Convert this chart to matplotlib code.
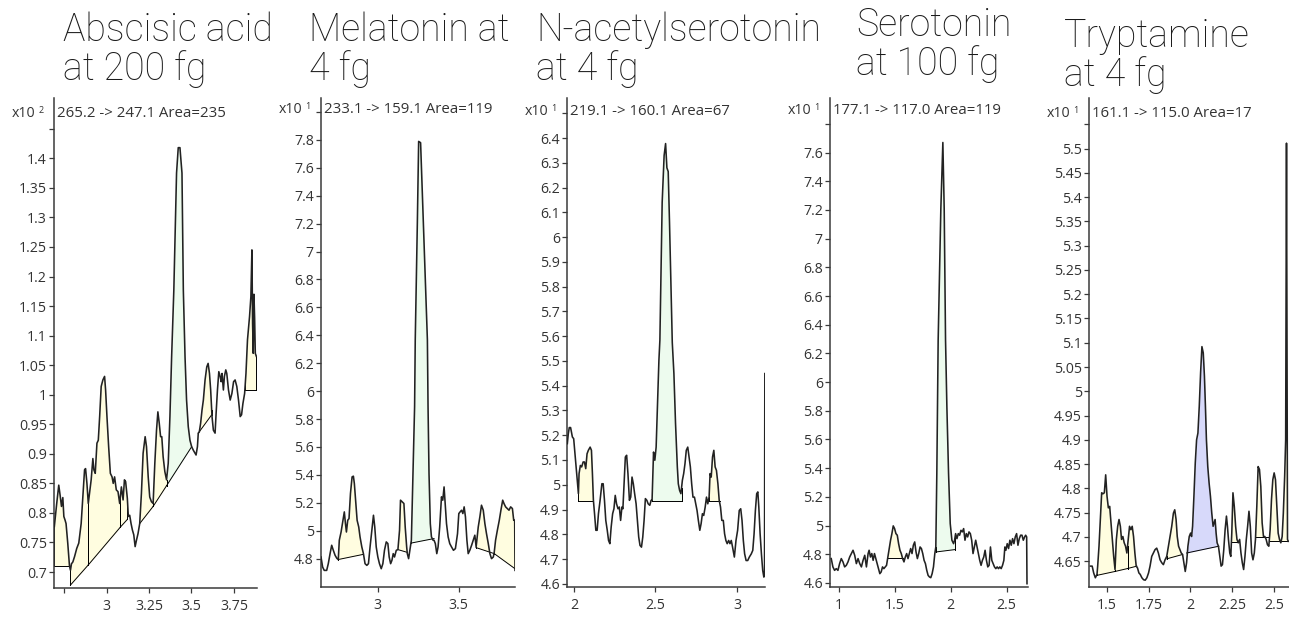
import matplotlib.pyplot as plt
import numpy as np

W, H = 1289, 619

# ---------------- data (retention time [min], counts) ----------------
titles = [("Abscisic acid", "at 200 fg"), ("Melatonin at", "4 fg"),
          ("N-acetylserotonin", "at 4 fg"), ("Serotonin", "at 100 fg"),
          ("Tryptamine", "at 4 fg")]
transitions = ["265.2 -> 247.1 Area=235", "233.1 -> 159.1 Area=119",
               "219.1 -> 160.1 Area=67", "177.1 -> 117.0 Area=119",
               "161.1 -> 115.0 Area=17"]
exponents = ["2", "1", "1", "1", "1"]

abscisic_trace = [
    (2.692, 0.777), (2.706, 0.816), (2.718, 0.847), (2.726, 0.830), (2.734, 0.811), (2.742, 0.826),
    (2.748, 0.794), (2.755, 0.788), (2.761, 0.782), (2.771, 0.749), (2.781, 0.711), (2.787, 0.703),
    (2.793, 0.714), (2.801, 0.717), (2.811, 0.726), (2.824, 0.740), (2.836, 0.749), (2.850, 0.782),
    (2.860, 0.827), (2.870, 0.873), (2.876, 0.875), (2.884, 0.850), (2.892, 0.816), (2.899, 0.833),
    (2.909, 0.856), (2.919, 0.892), (2.925, 0.873), (2.933, 0.867), (2.943, 0.918), (2.951, 0.923),
    (2.959, 0.963), (2.968, 1.014), (2.978, 1.025), (2.988, 1.031), (2.994, 1.008), (3.002, 0.963),
    (3.012, 0.912), (3.022, 0.867), (3.032, 0.861), (3.039, 0.850), (3.047, 0.861), (3.057, 0.839),
    (3.067, 0.836), (3.077, 0.816), (3.087, 0.844), (3.097, 0.822), (3.105, 0.856), (3.112, 0.853),
    (3.122, 0.825), (3.128, 0.794), (3.136, 0.796), (3.144, 0.782), (3.152, 0.771), (3.160, 0.763),
    (3.168, 0.743), (3.176, 0.754), (3.185, 0.765), (3.195, 0.782), (3.205, 0.833), (3.215, 0.901),
    (3.227, 0.929), (3.235, 0.912), (3.245, 0.861), (3.254, 0.827), (3.264, 0.819), (3.274, 0.816),
    (3.284, 0.884), (3.294, 0.940), (3.302, 0.971), (3.310, 0.952), (3.318, 0.929), (3.325, 0.929),
    (3.333, 0.895), (3.343, 0.870), (3.353, 0.856), (3.363, 0.884), (3.373, 0.963), (3.383, 1.064),
    (3.396, 1.177), (3.412, 1.375), (3.422, 1.418), (3.432, 1.418), (3.444, 1.375), (3.452, 1.177),
    (3.462, 1.064), (3.471, 0.991), (3.481, 0.946), (3.491, 0.923), (3.501, 0.912), (3.511, 0.906),
    (3.521, 0.901), (3.527, 0.898), (3.535, 0.912), (3.540, 0.935), (3.546, 0.937), (3.554, 0.952),
    (3.562, 0.974), (3.570, 0.991), (3.580, 1.025), (3.590, 1.047), (3.598, 1.053), (3.606, 1.036),
    (3.613, 1.008), (3.621, 0.963), (3.629, 0.940), (3.639, 0.935), (3.645, 0.968), (3.653, 1.008),
    (3.661, 1.039), (3.669, 1.031), (3.675, 1.022), (3.680, 1.036), (3.688, 1.008), (3.694, 1.031),
    (3.702, 1.042), (3.708, 1.036), (3.718, 1.008), (3.728, 0.991), (3.738, 1.002), (3.748, 1.022),
    (3.757, 1.025), (3.767, 1.014), (3.777, 0.991), (3.787, 0.963), (3.795, 0.966), (3.803, 0.985),
    (3.813, 1.002), (3.821, 1.036), (3.830, 1.093), (3.842, 1.132), (3.850, 1.166), (3.856, 1.245),
    (3.860, 1.120), (3.864, 1.070), (3.868, 1.170), (3.872, 1.130), (3.876, 1.070), (3.882, 1.065),
]
melatonin_trace = [
    (2.649, 4.812), (2.659, 4.740), (2.669, 4.716), (2.684, 4.716), (2.694, 4.764), (2.705, 4.836),
    (2.715, 4.896), (2.725, 4.860), (2.736, 4.824), (2.748, 4.800), (2.756, 4.800), (2.762, 4.932),
    (2.773, 4.991), (2.783, 5.063), (2.793, 5.135), (2.800, 5.051), (2.806, 4.991), (2.814, 5.075),
    (2.822, 5.087), (2.831, 5.267), (2.841, 5.386), (2.849, 5.391), (2.855, 5.338), (2.864, 5.195),
    (2.872, 5.075), (2.882, 5.027), (2.890, 4.956), (2.901, 4.884), (2.911, 4.836), (2.921, 4.764),
    (2.932, 4.752), (2.942, 4.764), (2.952, 4.884), (2.963, 5.003), (2.973, 5.111), (2.981, 5.027),
    (2.990, 4.884), (3.000, 4.812), (3.010, 4.764), (3.021, 4.728), (3.031, 4.764), (3.041, 4.860),
    (3.052, 4.920), (3.062, 4.908), (3.070, 4.812), (3.079, 4.764), (3.087, 4.788), (3.095, 4.836),
    (3.103, 4.812), (3.114, 4.860), (3.124, 4.865), (3.134, 5.003), (3.140, 5.219), (3.151, 5.207),
    (3.161, 5.195), (3.169, 5.027), (3.178, 4.884), (3.182, 4.836), (3.190, 4.800), (3.198, 4.860),
    (3.207, 4.932), (3.217, 5.410), (3.227, 5.889), (3.231, 6.367), (3.244, 7.207), (3.252, 7.789),
    (3.264, 7.780), (3.281, 7.207), (3.306, 6.367), (3.310, 5.889), (3.316, 5.410), (3.324, 5.051),
    (3.331, 4.956), (3.341, 4.932), (3.347, 4.932), (3.355, 4.908), (3.364, 4.836), (3.372, 4.884),
    (3.382, 5.027), (3.393, 5.243), (3.401, 5.219), (3.409, 5.314), (3.417, 5.171), (3.424, 5.051),
    (3.434, 4.956), (3.444, 4.908), (3.455, 4.884), (3.467, 4.860), (3.479, 4.872), (3.492, 4.979),
    (3.500, 5.123), (3.508, 5.135), (3.517, 5.147), (3.525, 5.123), (3.533, 5.171), (3.541, 5.099),
    (3.550, 4.932), (3.558, 4.836), (3.568, 4.860), (3.579, 4.896), (3.589, 4.932), (3.599, 4.968),
    (3.607, 4.884), (3.620, 5.027), (3.630, 5.099), (3.640, 5.183), (3.651, 5.147), (3.661, 5.051),
    (3.671, 4.979), (3.682, 4.908), (3.692, 4.836), (3.702, 4.800), (3.713, 4.812), (3.719, 4.848),
    (3.727, 4.932), (3.738, 5.003), (3.750, 5.075), (3.760, 5.147), (3.771, 5.219), (3.779, 5.195),
    (3.789, 5.171), (3.800, 5.159), (3.810, 5.147), (3.820, 5.171), (3.831, 5.159), (3.839, 5.075),
    (3.845, 5.075), (3.847, 4.716),
]
acetylserotonin_trace = [
    (1.959, 5.166), (1.965, 5.206), (1.971, 5.231), (1.979, 5.231), (1.990, 5.193), (1.998, 5.186),
    (2.006, 5.125), (2.016, 5.045), (2.023, 4.991), (2.027, 4.964), (2.031, 5.045), (2.039, 5.078),
    (2.047, 5.072), (2.056, 5.092), (2.064, 5.092), (2.072, 5.065), (2.080, 5.125), (2.088, 5.139),
    (2.099, 5.152), (2.107, 5.139), (2.113, 5.045), (2.119, 4.937), (2.126, 4.883), (2.134, 4.816),
    (2.142, 4.816), (2.150, 4.883), (2.160, 4.937), (2.171, 5.004), (2.179, 5.004), (2.187, 4.937),
    (2.195, 4.856), (2.204, 4.816), (2.212, 4.775), (2.220, 4.762), (2.228, 4.829), (2.237, 4.883),
    (2.245, 4.903), (2.253, 4.957), (2.261, 4.923), (2.270, 4.903), (2.278, 4.910), (2.286, 4.856),
    (2.294, 4.910), (2.300, 4.903), (2.307, 5.004), (2.315, 5.112), (2.323, 5.119), (2.331, 5.045),
    (2.340, 4.937), (2.348, 4.950), (2.356, 5.031), (2.364, 5.004), (2.372, 4.964), (2.381, 4.923),
    (2.389, 4.856), (2.397, 4.789), (2.405, 4.755), (2.414, 4.748), (2.422, 4.789), (2.430, 4.856),
    (2.438, 4.944), (2.447, 4.937), (2.455, 4.923), (2.465, 4.917), (2.473, 4.937), (2.479, 4.937),
    (2.488, 5.132), (2.496, 5.099), (2.504, 5.152), (2.512, 5.314), (2.521, 5.503), (2.527, 5.584),
    (2.541, 6.140), (2.553, 6.330), (2.562, 6.378), (2.570, 6.280), (2.578, 6.265), (2.586, 6.060),
    (2.603, 5.575), (2.613, 5.449), (2.623, 5.247), (2.634, 5.072), (2.640, 5.004), (2.648, 4.977),
    (2.656, 4.964), (2.665, 5.018), (2.673, 5.045), (2.681, 5.085), (2.689, 5.139), (2.698, 5.152),
    (2.706, 5.112), (2.714, 5.072), (2.722, 5.004), (2.730, 4.950), (2.739, 4.950), (2.747, 4.923),
    (2.755, 4.896), (2.763, 4.856), (2.772, 4.816), (2.780, 4.843), (2.788, 4.883), (2.796, 4.876),
    (2.805, 4.910), (2.813, 4.950), (2.821, 4.923), (2.829, 4.950), (2.835, 5.045), (2.842, 5.031),
    (2.850, 5.112), (2.858, 5.139), (2.866, 5.072), (2.874, 5.058), (2.883, 5.004), (2.891, 4.937),
    (2.899, 4.910), (2.907, 4.856), (2.916, 4.856), (2.924, 4.802), (2.932, 4.775), (2.940, 4.762),
    (2.949, 4.775), (2.957, 4.762), (2.965, 4.775), (2.973, 4.748), (2.984, 4.708), (2.994, 4.775),
    (3.004, 4.816), (3.014, 4.896), (3.023, 4.903), (3.031, 4.856), (3.039, 4.775), (3.047, 4.721),
    (3.056, 4.694), (3.066, 4.694), (3.076, 4.708), (3.088, 4.721), (3.097, 4.735), (3.105, 4.802),
    (3.113, 4.896), (3.121, 4.964), (3.128, 4.971), (3.134, 4.910), (3.142, 4.802), (3.150, 4.721),
    (3.158, 4.654), (3.165, 4.627), (3.169, 4.640), (3.171, 5.449),
]
serotonin_trace = [
    (0.931, 4.770), (0.946, 4.712), (0.961, 4.688), (0.976, 4.700), (0.991, 4.688), (1.006, 4.735),
    (1.021, 4.770), (1.036, 4.747), (1.051, 4.712), (1.066, 4.723), (1.081, 4.747), (1.096, 4.781),
    (1.111, 4.805), (1.126, 4.828), (1.141, 4.793), (1.156, 4.735), (1.171, 4.770), (1.186, 4.735),
    (1.201, 4.712), (1.216, 4.758), (1.231, 4.793), (1.246, 4.712), (1.261, 4.805), (1.270, 4.828),
    (1.282, 4.781), (1.294, 4.805), (1.306, 4.758), (1.318, 4.805), (1.330, 4.770), (1.342, 4.735),
    (1.354, 4.700), (1.366, 4.665), (1.378, 4.677), (1.390, 4.712), (1.402, 4.700), (1.414, 4.712),
    (1.426, 4.723), (1.438, 4.781), (1.450, 4.840), (1.462, 4.898), (1.474, 4.944), (1.486, 4.998),
    (1.498, 4.979), (1.510, 4.944), (1.522, 4.933), (1.534, 4.874), (1.546, 4.828), (1.558, 4.805),
    (1.570, 4.770), (1.582, 4.747), (1.594, 4.781), (1.606, 4.805), (1.618, 4.770), (1.630, 4.805),
    (1.642, 4.840), (1.654, 4.805), (1.666, 4.863), (1.678, 4.886), (1.690, 4.816), (1.702, 4.770),
    (1.714, 4.805), (1.726, 4.851), (1.738, 4.840), (1.750, 4.805), (1.762, 4.758), (1.774, 4.735),
    (1.786, 4.688), (1.798, 4.653), (1.810, 4.642), (1.822, 4.637), (1.834, 4.665), (1.846, 4.712),
    (1.858, 4.805), (1.867, 4.851), (1.876, 5.363), (1.888, 6.293), (1.912, 7.209), (1.930, 7.670),
    (1.942, 7.209), (1.954, 6.293), (1.966, 5.828), (1.981, 5.363), (1.996, 5.014), (2.011, 4.898),
    (2.026, 4.874), (2.035, 4.898), (2.044, 4.944), (2.056, 4.909), (2.068, 4.944), (2.080, 4.933),
    (2.092, 4.967), (2.104, 4.956), (2.116, 4.979), (2.128, 4.898), (2.140, 4.944), (2.152, 4.921),
    (2.164, 4.956), (2.176, 4.944), (2.188, 4.898), (2.200, 4.805), (2.212, 4.851), (2.224, 4.898),
    (2.236, 4.851), (2.248, 4.805), (2.260, 4.758), (2.272, 4.723), (2.284, 4.758), (2.296, 4.781),
    (2.308, 4.828), (2.320, 4.758), (2.332, 4.712), (2.344, 4.723), (2.356, 4.851), (2.368, 4.758),
    (2.380, 4.735), (2.392, 4.712), (2.404, 4.700), (2.416, 4.712), (2.428, 4.700), (2.440, 4.712),
    (2.452, 4.700), (2.464, 4.723), (2.476, 4.758), (2.485, 4.851), (2.494, 4.828), (2.506, 4.874),
    (2.518, 4.840), (2.530, 4.898), (2.542, 4.863), (2.554, 4.909), (2.566, 4.874), (2.578, 4.921),
    (2.590, 4.944), (2.602, 4.863), (2.614, 4.909), (2.626, 4.933), (2.638, 4.933), (2.650, 4.898),
    (2.662, 4.921), (2.671, 4.933), (2.680, 4.921), (2.683, 4.595),
]
tryptamine_trace = [
    (1.401, 4.640), (1.411, 4.640), (1.420, 4.626), (1.430, 4.616), (1.440, 4.623), (1.444, 4.640),
    (1.452, 4.681), (1.460, 4.736), (1.468, 4.791), (1.476, 4.789), (1.484, 4.791), (1.492, 4.828),
    (1.500, 4.784), (1.508, 4.760), (1.516, 4.763), (1.524, 4.729), (1.532, 4.695), (1.540, 4.660),
    (1.548, 4.633), (1.556, 4.695), (1.564, 4.722), (1.572, 4.736), (1.580, 4.722), (1.587, 4.695),
    (1.595, 4.701), (1.603, 4.688), (1.611, 4.681), (1.619, 4.667), (1.627, 4.695), (1.635, 4.722),
    (1.643, 4.715), (1.651, 4.722), (1.659, 4.701), (1.667, 4.667), (1.675, 4.640), (1.683, 4.636),
    (1.691, 4.626), (1.699, 4.623), (1.709, 4.616), (1.719, 4.612), (1.729, 4.611), (1.739, 4.616),
    (1.749, 4.626), (1.758, 4.640), (1.768, 4.660), (1.778, 4.667), (1.788, 4.674), (1.798, 4.677),
    (1.808, 4.667), (1.818, 4.653), (1.828, 4.647), (1.838, 4.643), (1.848, 4.653), (1.858, 4.660),
    (1.868, 4.681), (1.878, 4.701), (1.888, 4.722), (1.898, 4.749), (1.906, 4.756), (1.914, 4.736),
    (1.921, 4.701), (1.929, 4.681), (1.937, 4.674), (1.945, 4.667), (1.953, 4.664), (1.961, 4.647),
    (1.969, 4.629), (1.977, 4.647), (1.985, 4.681), (1.993, 4.701), (2.001, 4.708), (2.007, 4.701),
    (2.013, 4.722), (2.021, 4.784), (2.029, 4.852), (2.037, 4.900), (2.045, 4.914), (2.053, 4.969),
    (2.061, 5.038), (2.069, 5.092), (2.077, 5.079), (2.084, 5.031), (2.090, 4.969), (2.096, 4.900),
    (2.104, 4.845), (2.112, 4.811), (2.120, 4.784), (2.128, 4.749), (2.136, 4.722), (2.142, 4.729),
    (2.148, 4.736), (2.154, 4.708), (2.160, 4.688), (2.168, 4.681), (2.176, 4.660), (2.184, 4.640),
    (2.192, 4.643), (2.200, 4.674), (2.208, 4.715), (2.216, 4.743), (2.222, 4.722), (2.228, 4.695),
    (2.236, 4.667), (2.242, 4.660), (2.248, 4.708), (2.255, 4.791), (2.263, 4.763), (2.271, 4.722),
    (2.279, 4.695), (2.287, 4.688), (2.295, 4.695), (2.303, 4.667), (2.311, 4.647), (2.319, 4.633),
    (2.327, 4.660), (2.335, 4.695), (2.343, 4.722), (2.351, 4.753), (2.359, 4.722), (2.367, 4.667),
    (2.375, 4.653), (2.383, 4.667), (2.390, 4.695), (2.398, 4.763), (2.406, 4.845), (2.414, 4.839),
    (2.422, 4.804), (2.430, 4.729), (2.438, 4.701), (2.446, 4.701), (2.454, 4.695), (2.462, 4.684),
    (2.470, 4.681), (2.478, 4.715), (2.486, 4.777), (2.494, 4.818), (2.502, 4.832), (2.510, 4.818),
    (2.518, 4.763), (2.526, 4.708), (2.534, 4.695), (2.542, 4.688), (2.550, 4.701), (2.557, 4.749),
    (2.565, 4.825), (2.571, 4.900), (2.576, 5.511), (2.582, 4.695), (2.587, 4.691),
]

# integrated peaks: start, end, baseline at start, baseline at end, kind
abscisic_peaks = [
    (2.692, 2.781, 0.711, 0.711, "other"), (2.787, 2.892, 0.678, 0.712, "other"),
    (2.892, 3.081, 0.712, 0.776, "other"), (3.081, 3.122, 0.776, 0.789, "other"),
    (3.195, 3.274, 0.782, 0.811, "other"), (3.274, 3.353, 0.811, 0.846, "other"),
    (3.353, 3.501, 0.846, 0.912, "target"), (3.540, 3.619, 0.935, 0.966, "other"),
    (3.817, 3.882, 1.008, 1.008, "other"),
]
melatonin_peaks = [
    (2.752, 2.911, 4.793, 4.831, "other"), (3.124, 3.182, 4.865, 4.845, "other"),
    (3.207, 3.347, 4.912, 4.944, "target"), (3.607, 3.719, 4.879, 4.836, "other"),
    (3.719, 3.847, 4.836, 4.728, "other"),
]
acetylserotonin_peaks = [
    (2.023, 2.119, 4.935, 4.935, "other"), (2.479, 2.660, 4.935, 4.935, "target"),
    (2.829, 2.895, 4.935, 4.935, "other"),
]
serotonin_peaks = [
    (1.432, 1.570, 4.777, 4.777, "other"), (1.867, 2.041, 4.816, 4.833, "target"),
]
tryptamine_peaks = [
    (1.440, 1.548, 4.621, 4.629, "other"), (1.548, 1.623, 4.629, 4.635, "other"),
    (1.623, 1.679, 4.635, 4.640, "other"), (1.858, 1.953, 4.655, 4.664, "other"),
    (1.977, 2.170, 4.667, 4.681, "target_alt"), (2.244, 2.287, 4.689, 4.689, "other"),
    (2.390, 2.470, 4.700, 4.700, "other"), (2.470, 2.587, 4.691, 4.691, "other"),
]

# axis ticks; '' = tick without label
abscisic_xticks = [2.75, 3, 3.25, 3.5, 3.75]
abscisic_xlabels = ["", "3", "3.25", "3.5", "3.75"]
abscisic_yticks = [0.7, 0.75, 0.8, 0.85, 0.9, 0.95, 1, 1.05, 1.1, 1.15, 1.2, 1.25, 1.3, 1.35, 1.4, 1.45]
abscisic_ylabels = ["0.7", "0.75", "0.8", "0.85", "0.9", "0.95", "1", "1.05", "1.1", "1.15",
                    "1.2", "1.25", "1.3", "1.35", "1.4", ""]
melatonin_xticks = [3, 3.5]
melatonin_xlabels = ["3", "3.5"]
melatonin_yticks = [4.8, 5, 5.2, 5.4, 5.6, 5.8, 6, 6.2, 6.4, 6.6, 6.8, 7, 7.2, 7.4, 7.6, 7.8, 8]
melatonin_ylabels = ["4.8", "5", "5.2", "5.4", "5.6", "5.8", "6", "6.2", "6.4", "6.6", "6.8",
                     "7", "7.2", "7.4", "7.6", "7.8", ""]
acetylserotonin_xticks = [2, 2.5, 3]
acetylserotonin_xlabels = ["2", "2.5", "3"]
acetylserotonin_yticks = [4.6, 4.7, 4.8, 4.9, 5, 5.1, 5.2, 5.3, 5.4, 5.5, 5.6, 5.7, 5.8, 5.9, 6,
                          6.1, 6.2, 6.3, 6.4, 6.5]
acetylserotonin_ylabels = ["4.6", "4.7", "4.8", "4.9", "5", "5.1", "5.2", "5.3", "5.4", "5.5",
                           "5.6", "5.7", "5.8", "5.9", "6", "6.1", "6.2", "6.3", "6.4", ""]
serotonin_xticks = [1, 1.5, 2, 2.5]
serotonin_xlabels = ["1", "1.5", "2", "2.5"]
serotonin_yticks = [4.6, 4.8, 5, 5.2, 5.4, 5.6, 5.8, 6, 6.2, 6.4, 6.6, 6.8, 7, 7.2, 7.4, 7.6, 7.8]
serotonin_ylabels = ["4.6", "4.8", "5", "5.2", "5.4", "5.6", "5.8", "6", "6.2", "6.4", "6.6",
                     "6.8", "7", "7.2", "7.4", "7.6", ""]
tryptamine_xticks = [1.5, 1.75, 2, 2.25, 2.5]
tryptamine_xlabels = ["1.5", "1.75", "2", "2.25", "2.5"]
tryptamine_yticks = [4.65, 4.7, 4.75, 4.8, 4.85, 4.9, 4.95, 5, 5.05, 5.1, 5.15, 5.2, 5.25, 5.3,
                     5.35, 5.4, 5.45, 5.5, 5.55]
tryptamine_ylabels = ["4.65", "4.7", "4.75", "4.8", "4.85", "4.9", "4.95", "5", "5.05", "5.1",
                      "5.15", "5.2", "5.25", "5.3", "5.35", "5.4", "5.45", "5.5", ""]

traces = [abscisic_trace, melatonin_trace, acetylserotonin_trace, serotonin_trace, tryptamine_trace]
peaks = [abscisic_peaks, melatonin_peaks, acetylserotonin_peaks, serotonin_peaks, tryptamine_peaks]
xticks = [(abscisic_xticks, abscisic_xlabels), (melatonin_xticks, melatonin_xlabels),
          (acetylserotonin_xticks, acetylserotonin_xlabels), (serotonin_xticks, serotonin_xlabels),
          (tryptamine_xticks, tryptamine_xlabels)]
yticks = [(abscisic_yticks, abscisic_ylabels), (melatonin_yticks, melatonin_ylabels),
          (acetylserotonin_yticks, acetylserotonin_ylabels), (serotonin_yticks, serotonin_ylabels),
          (tryptamine_yticks, tryptamine_ylabels)]

# ---------------- layout / style ----------------
# axes box in pixels: left, top, right, bottom
boxes = [(54, 98, 257, 588), (321, 98, 515, 587), (567, 98, 765, 587),
         (830, 98, 1028, 587), (1089, 98, 1289, 587)]
xlims = [(2.690, 3.886), (2.649, 3.847), (1.957, 3.172), (0.920, 2.692), (1.392, 2.591)]
ylims = [(0.673, 1.502), (4.597, 8.10), (4.587, 6.562), (4.572, 7.98), (4.597, 5.604)]
# title: left x, baseline line 1, baseline line 2 (pixels)
title_pos = [(63, 41, 80), (309, 41, 80), (536, 41, 80), (856, 36, 75), (1064, 47, 86)]
head_dy = [19, 15, 17, 16, 19]

fill_colors = {"other": "#fffde0", "target": "#edfbee", "target_alt": "#d7d9fa"}
trace_color = "#222222"
axis_color = "#3a3a3a"
small_font = ["Open Sans", "DejaVu Sans"]
title_font = ["Roboto", "DejaVu Sans"]

fig = plt.figure(figsize=(W / 100, H / 100), dpi=100)
fig.patch.set_facecolor("white")

for i in range(5):
    l, t, r, b = boxes[i]
    ax = fig.add_axes([l / W, 1 - b / H, (r - l) / W, (b - t) / H])
    ax.patch.set_alpha(0)

    x, y = np.array(traces[i]).T

    for x0, x1, b0, b1, kind in peaks[i]:
        inside = (x > x0) & (x < x1)
        xs = np.concatenate([[x0], x[inside], [x1]])
        ys = np.concatenate([[np.interp(x0, x, y)], y[inside], [np.interp(x1, x, y)]])
        base = np.interp(xs, [x0, x1], [b0, b1])
        top = np.maximum(ys, base)
        ax.fill_between(xs, base, top, color=fill_colors[kind], lw=0, zorder=1)
        ax.plot([x0, x1], [b0, b1], color="black", lw=0.7, zorder=2)
        ax.plot([x0, x0], [b0, top[0]], color="black", lw=0.7, zorder=2)
        ax.plot([x1, x1], [b1, top[-1]], color="black", lw=0.7, zorder=2)

    ax.plot(x, y, color=trace_color, lw=1.15, zorder=3, solid_joinstyle="round")

    ax.set_xlim(*xlims[i])
    ax.set_ylim(*ylims[i])
    ax.set_xticks(xticks[i][0])
    ax.set_xticklabels(xticks[i][1])
    ax.set_yticks(yticks[i][0])
    ax.set_yticklabels(yticks[i][1])

    for side in ("top", "right"):
        ax.spines[side].set_visible(False)
    for side in ("left", "bottom"):
        ax.spines[side].set_color(axis_color)
        ax.spines[side].set_linewidth(1.1)
    ax.tick_params(axis="both", direction="out", length=3.6, width=0.9,
                   color=axis_color, labelcolor="#333333", labelsize=10.2)
    ax.tick_params(axis="y", pad=1.5)
    ax.tick_params(axis="x", pad=4.5)
    for lab in ax.get_xticklabels() + ax.get_yticklabels():
        lab.set_family(small_font)

    # header: multiplier and transition
    ax.annotate("x10", xy=(0, 1), xycoords="axes fraction", xytext=(-19, -head_dy[i]),
                textcoords="offset pixels", ha="right", va="baseline",
                fontsize=10.2, family=small_font, color="#333333")
    ax.annotate(exponents[i], xy=(0, 1), xycoords="axes fraction", xytext=(-13, -head_dy[i] + 4),
                textcoords="offset pixels", ha="center", va="baseline",
                fontsize=6.5, family=small_font, color="#333333")
    ax.annotate(transitions[i], xy=(0, 1), xycoords="axes fraction", xytext=(3, -head_dy[i]),
                textcoords="offset pixels", ha="left", va="baseline",
                fontsize=10.8, family=small_font, color="#333333")

    # big title, two lines
    tx, tb1, tb2 = title_pos[i]
    for line, base_y in zip(titles[i], (tb1, tb2)):
        fig.text(tx / W, 1 - base_y / H, line, ha="left", va="baseline",
                 fontsize=27, family=title_font, weight="light", color="#1a1a1a")

fig.savefig("out.png", dpi=100)
